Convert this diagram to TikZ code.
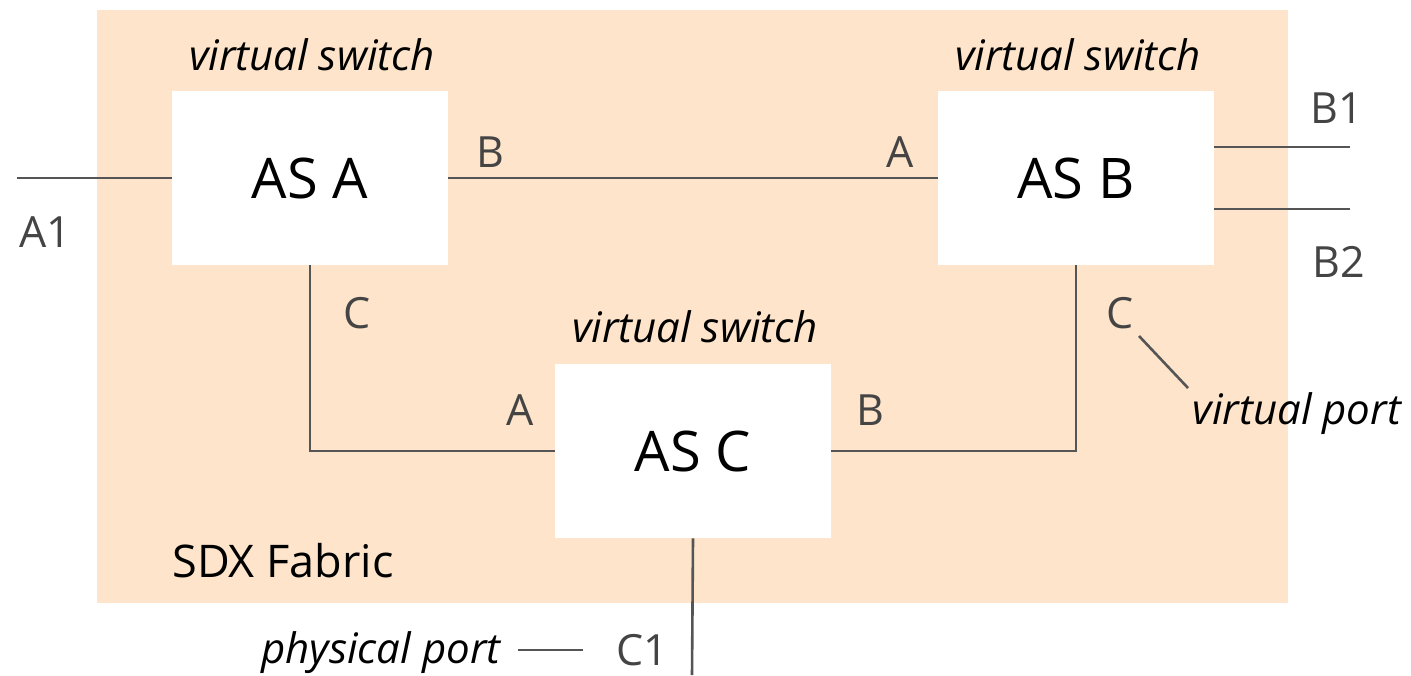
\documentclass[tikz,border=0pt]{standalone}
\usepackage{fontspec}
\setmainfont{Open Sans}
\definecolor{fabric}{HTML}{FDE4CA}
\definecolor{linegray}{HTML}{555555}
\definecolor{labelgray}{HTML}{444444}
\begin{document}
\begin{tikzpicture}[x=0.5pt,y=-0.5pt,
  box/.style={fill=white,inner sep=0pt,minimum width=138pt,minimum height=87pt,font=\fontsize{28}{32}\selectfont},
  wire/.style={draw=linegray,line width=1.3pt},
  port/.style={text=labelgray,inner sep=0pt,font=\fontsize{21.5}{24}\selectfont},
  note/.style={inner sep=0pt,font=\fontsize{21}{24}\selectfont\itshape}]
\useasboundingbox (0,0) rectangle (1411,675);
\fill[fabric] (97,10) rectangle (1288,603);
\node[box] (asA) at (310,178) {AS A};
\node[box] (asB) at (1076,178) {AS B};
\node[box] (asC) at (693,451) {AS C};
\node[note] (vsA) at (312,55) {virtual switch};
\node[note] (vsB) at (1078,55) {virtual switch};
\node[note] (vsC) at (695,327) {virtual switch};
\coordinate (a1end) at (17,178);
\coordinate (b1end) at (1350,147);
\coordinate (b2end) at (1350,209);
\coordinate (c1end) at (692,675);
\draw[wire] (a1end) -- (asA.west);
\draw[wire] (asA.east) -- (asB.west);
\draw[wire] (asB.east |- b1end) -- (b1end);
\draw[wire] (asB.east |- b2end) -- (b2end);
\draw[wire] (asA.south) |- (asC.west);
\draw[wire] (asC.east) -| (asB.south);
\draw[wire] (asC.south) -- (c1end);
\node[port] (lA1) at (45,232) {A1};
\node[port] (lAB) at (490,152) {B};
\node[port] (lBA) at (900,152) {A};
\node[port] (lB1) at (1337,108) {B1};
\node[port] (lB2) at (1339,262) {B2};
\node[port] (lAC) at (357,313) {C};
\node[port] (lCA) at (520,410) {A};
\node[port] (lCB) at (870,410) {B};
\node[port] (lBC) at (1120,313) {C};
\node[port] (lC1) at (642,650) {C1};
\node[note] (vport) at (1297,414) {virtual port};
\node[note] (pport) at (381,653) {physical port};
\coordinate (pp1) at (518,650);
\coordinate (pp2) at (583,650);
\draw[wire] (pp1) -- (pp2);
\coordinate (vp1) at (1139,336);
\coordinate (vp2) at (1188,388);
\draw[wire] (vp1) -- (vp2);
\node[inner sep=0pt,font=\fontsize{22.5}{26}\selectfont] (sdx) at (283,561) {SDX Fabric};
\end{tikzpicture}
\end{document}
